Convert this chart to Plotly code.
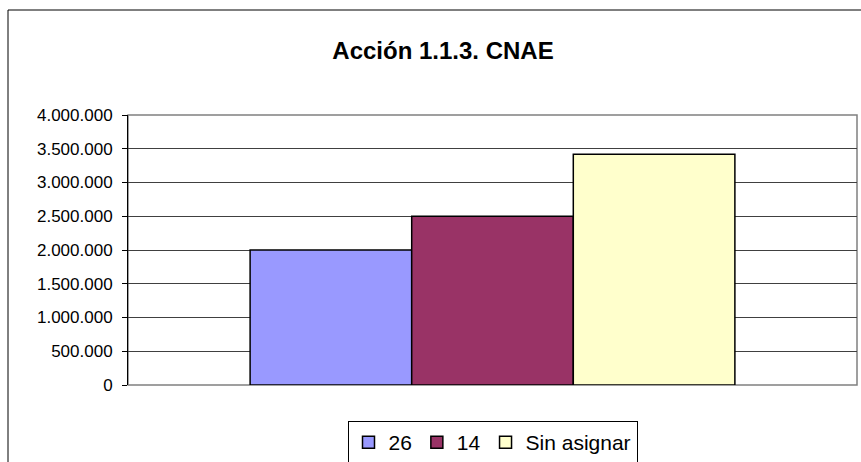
import plotly.graph_objects as go

series_names = ["26", "14", "Sin asignar"]
series_values = [2000000, 2500000, 3420000]
series_colors = ["#9999FF", "#993366", "#FFFFCC"]
y_ticks = [0, 500000, 1000000, 1500000, 2000000, 2500000, 3000000, 3500000, 4000000]
title_text = "<b>Acción 1.1.3. CNAE</b>"

W, H = 861, 462
L, R, T, B = 128, 4, 115, 77
pw = W - L - R
ph = H - T - B

fig = go.Figure()
for name, val, col in zip(series_names, series_values, series_colors):
    fig.add_trace(go.Bar(
        x=[""], y=[val], name=name,
        marker=dict(color=col, line=dict(color="black", width=1.5)),
    ))

fig.update_layout(
    width=W, height=H,
    margin=dict(l=L, r=R, t=T, b=B, autoexpand=False),
    paper_bgcolor="white", plot_bgcolor="white",
    barmode="group", bargap=0.335, bargroupgap=0,
    separators=",.",
    font=dict(family="Liberation Sans, Arial, sans-serif", color="black"),
    title=dict(text=title_text, font=dict(size=24, color="black"),
               x=443 / W, xref="container", xanchor="center",
               y=1 - 51 / H, yref="container", yanchor="middle"),
    legend=dict(orientation="h", x=0.5, xanchor="center",
                y=(ph - (421 - T)) / ph, yanchor="top",
                bordercolor="black", borderwidth=1,
                font=dict(size=21), itemwidth=30, tracegroupgap=0),
    showlegend=True,
)
fig.update_xaxes(showticklabels=False, showgrid=False, zeroline=False,
                 showline=False, ticks="")
fig.update_yaxes(range=[0, 4000000], tickvals=y_ticks, tickformat=",d",
                 showgrid=True, gridcolor="#404040", gridwidth=1,
                 zeroline=False, showline=True, linecolor="black", linewidth=1,
                 ticks="outside", ticklen=5, tickcolor="black",
                 ticklabelstandoff=6,
                 tickfont=dict(size=17, color="black"))

# plot area border (gray)
fig.add_shape(type="rect", xref="paper", yref="paper", x0=0, x1=1, y0=0, y1=1,
              line=dict(color="#808080", width=1.5), layer="below")
# outer chart border
fig.add_shape(type="rect", xref="paper", yref="paper",
              x0=(8 - L) / pw, x1=(W + 20 - L) / pw,
              y0=(ph - (H + 20 - T)) / ph, y1=(ph - (10 - T)) / ph,
              line=dict(color="black", width=1))

fig.write_html("out.html", config={"displayModeBar": False},
               post_script="document.body.style.margin='0';document.body.style.overflow='hidden';")
